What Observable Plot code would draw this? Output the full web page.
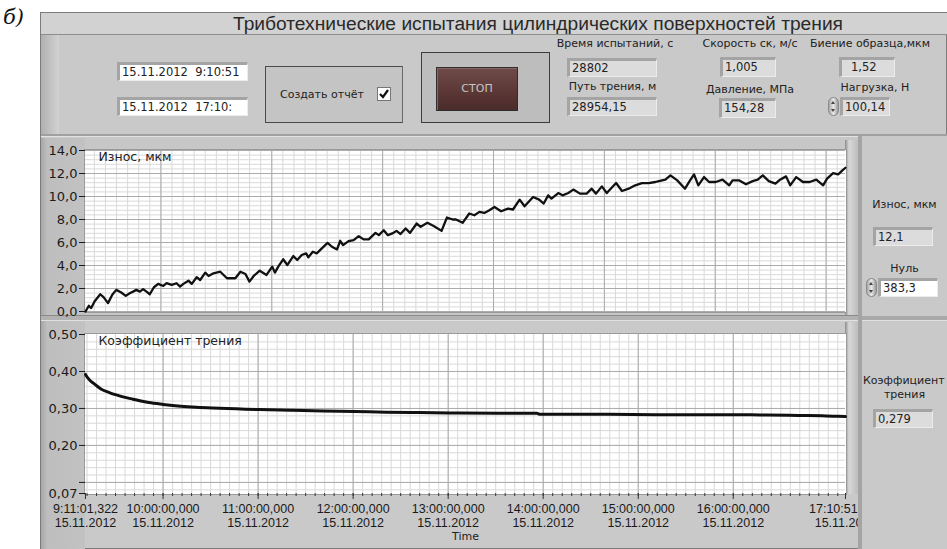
<!DOCTYPE html>
<html><head><meta charset="utf-8">
<script src="https://cdn.jsdelivr.net/npm/d3@7"></script>
<script src="https://cdn.jsdelivr.net/npm/@observablehq/plot@0.6"></script>
<style>
body{margin:0;background:#fff;}
#root{position:relative;width:947px;height:549px;overflow:hidden;font-family:"DejaVu Sans",sans-serif;color:#222;}
.a{position:absolute;box-sizing:border-box;}
.box{position:absolute;box-sizing:border-box;border-style:solid;border-width:3px 1px 1px 3px;border-color:#a4a4a4 #ececec #ececec #a4a4a4;font:11.5px "DejaVu Sans";line-height:14px;padding-left:2px;color:#222;white-space:nowrap;overflow:hidden;}
.w{background:#fff}.g{background:#dcdcdc}
.lbl{position:absolute;font:11px "DejaVu Sans";color:#222;white-space:nowrap;text-align:center;}
.spin{position:absolute;width:11px;height:19px;border-radius:6px;background:linear-gradient(to right,#a8a8a8,#e8e8e8,#9a9a9a);border:1px solid #888;box-sizing:border-box;}
.spin:before{content:"";position:absolute;left:2px;top:3px;border:2.5px solid transparent;border-bottom:3px solid #444;border-top:0;}
.spin:after{content:"";position:absolute;left:2px;bottom:3px;border:2.5px solid transparent;border-top:3px solid #444;border-bottom:0;}
svg{overflow:visible}
</style></head><body><div id="root">
<div class="a" style="left:3px;top:5px;font:italic 21px 'DejaVu Serif',serif;color:#111">б)</div>
<div class="a" style="left:40px;top:12px;width:907px;height:537px;border:1px solid #7c7c7c;background:#c9c9c9"></div>
<div class="a" style="left:41px;top:13px;width:906px;height:22px;background:#d2d2d2;border-bottom:1px solid #8d8d8d"></div>
<div class="a" style="left:185px;top:13px;width:706px;height:22px;text-align:center;font:19.2px 'Liberation Sans',Arial,sans-serif;line-height:22px;color:#2a2a2a;white-space:nowrap">Триботехнические испытания цилиндрических поверхностей трения</div>
<div class="a" style="left:41px;top:35px;width:18px;height:100px;background:linear-gradient(to right,#b0b0b0,#d2d2d2)"></div>
<div class="a" style="left:41px;top:134px;width:906px;height:3px;background:#a0a0a0;border-bottom:1px solid #e2e2e2"></div>

<div class="box w" style="left:117px;top:62px;width:131px;height:19px">15.11.2012&nbsp; 9:10:51</div>
<div class="box w" style="left:117px;top:97px;width:131px;height:19px">15.11.2012&nbsp; 17:10:</div>

<div class="a" style="left:265px;top:66px;width:138px;height:57px;border:1px solid #4a4a4a;background:#c4c4c4;border-right-color:#6a6a6a"></div>
<div class="lbl" style="left:280px;top:88px">Создать отчёт</div>
<div class="a" style="left:377px;top:87px;width:14px;height:14px;background:#fff;border:1px solid #777">
<svg width="12" height="12" style="position:absolute;left:0;top:0"><polyline points="2,6 5,9 10,2" fill="none" stroke="#111" stroke-width="2.2"/></svg></div>

<div class="a" style="left:421px;top:52px;width:129px;height:71px;border:1px solid #3c3c3c;background:#bdbdbd"></div>
<div class="a" style="left:436px;top:67px;width:82px;height:44px;border:1px solid #2e2e2e;background:linear-gradient(#6e4a48,#5a3634 60%,#4a2c2b);box-shadow:inset 1px 1px 0 #8a6462;color:#c8c8c8;font:11px 'DejaVu Sans';text-align:center;line-height:42px">СТОП</div>

<div class="lbl" style="left:545px;top:37px;width:140px">Время испытаний, с</div>
<div class="box g" style="left:567px;top:58px;width:90px;height:19px">28802</div>
<div class="lbl" style="left:545px;top:80px;width:135px">Путь трения, м</div>
<div class="box g" style="left:567px;top:97px;width:90px;height:19px">28954,15</div>

<div class="lbl" style="left:695px;top:37px;width:110px">Скорость ск, м/с</div>
<div class="box g" style="left:720px;top:57px;width:56px;height:20px">1,005</div>
<div class="lbl" style="left:695px;top:83px;width:110px">Давление, МПа</div>
<div class="box g" style="left:719px;top:98px;width:57px;height:20px">154,28</div>

<div class="lbl" style="left:805px;top:37px;width:130px">Биение образца,мкм</div>
<div class="box g" style="left:839px;top:57px;width:56px;height:20px;padding-left:9px">1,52</div>
<div class="lbl" style="left:825px;top:81px;width:100px">Нагрузка, Н</div>
<div class="spin" style="left:828px;top:97px"></div>
<div class="box g" style="left:840px;top:97px;width:50px;height:19px">100,14</div>

<div class="a" style="left:41px;top:138px;width:817px;height:180px;background:#c7c7c7"></div>
<div class="a" style="left:41px;top:138px;width:44px;height:411px;background:linear-gradient(to right,#a6a6a6 0,#bebebe 6px,#c2c2c2 100%)"></div>
<div class="a" style="left:41px;top:315px;width:820px;height:6px;background:#b2b2b2;border-top:1px solid #8a8a8a;border-bottom:1px solid #e0e0e0"></div>
<div class="a" style="left:845px;top:140px;width:14px;height:175px;background:linear-gradient(to right,#8c8c8c,#d8d8d8 4px,#bababa)"></div>
<div class="a" style="left:845px;top:322px;width:14px;height:172px;background:linear-gradient(to right,#8c8c8c,#d8d8d8 4px,#bababa)"></div>

<div id="top" class="a" style="left:42px;top:137px"></div>
<div id="bot" class="a" style="left:42px;top:320px"></div>

<div class="a" style="left:858px;top:136px;width:89px;height:413px;background:#c9c9c9;border-left:4px solid #a4a4a4;z-index:5"></div>
<div class="a" style="left:862px;top:316px;width:85px;height:5px;background:#a9a9a9;border-bottom:1px solid #e0e0e0;z-index:6"></div>
<div class="lbl" style="left:862px;top:198px;width:85px;z-index:6">Износ, мкм</div>
<div class="box g" style="left:873px;top:227px;width:60px;height:19px;z-index:6">12,1</div>
<div class="lbl" style="left:862px;top:262px;width:85px;z-index:6">Нуль</div>
<div class="spin" style="left:866px;top:278px;z-index:6"></div>
<div class="box w" style="left:878px;top:278px;width:60px;height:19px;z-index:6">383,3</div>
<div class="lbl" style="left:863px;top:374px;text-align:left;z-index:6">Коэффициент</div>
<div class="lbl" style="left:862px;top:388px;width:85px;z-index:6">трения</div>
<div class="box g" style="left:873px;top:409px;width:60px;height:19px;z-index:6">0,279</div>
</div>
<script>
// ---- data ----
const wearMinutes = [0, 2.1, 3.6, 5.7, 9.3, 11.4, 14.2, 16.9, 19.4, 22.6,
 25.4, 27.9, 30.0, 32.1, 34.3, 36.4, 38.5, 40.6, 43.2, 45.9,
 49.1, 51.2, 54.4, 57.5, 59.7, 61.8, 65.0, 67.1, 70.2, 72.4,
 75.6, 77.7, 80.8, 85.1, 89.3, 94.6, 97.8, 101.0, 103.5, 106.2,
 110.0, 114.3, 117.9, 119.6, 121.7, 124.8, 127.4, 131.2, 133.7, 136.5,
 139.3, 140.7, 143.5, 146.1, 148.1, 152.8, 155.6, 158.8, 160.8, 162.6,
 166.1, 169.3, 172.5, 175.6, 178.8, 183.1, 185.2, 188.3, 190.9, 193.7,
 196.4, 198.9, 202.1, 204.9, 209.1, 211.6, 215.9, 220.1, 224.8, 228.2,
 231.8, 233.9, 238.1, 242.3, 245.5, 248.7, 251.8, 255.0, 258.2, 262.4,
 266.7, 269.9, 274.1, 277.2, 282.6, 286.4, 289.3, 292.1, 294.2, 298.5,
 301.2, 304.8, 308.0, 312.2, 316.4, 319.6, 322.3, 326.0, 329.1, 335.0,
 338.7, 342.9, 347.1, 351.3, 355.6, 359.8, 362.0, 366.1, 369.3, 373.6,
 378.5, 381.4, 384.2, 386.9, 390.5, 393.7, 397.9, 402.2, 406.4, 408.5,
 412.8, 417.0, 421.2, 424.4, 427.6, 431.4, 435.6, 438.5, 442.3, 444.9,
 448.7, 453.0, 457.2, 461.4, 465.7, 468.2, 472.0, 475.2, 477.9, 479.8];
const wearValues = [0.0, 0.5, 0.3, 0.87, 1.5, 1.25, 0.73, 1.45, 1.88, 1.65,
 1.36, 1.59, 1.73, 1.88, 1.73, 1.94, 1.73, 1.5, 2.11, 2.4,
 2.22, 2.46, 2.31, 2.46, 2.17, 2.4, 2.68, 2.4, 2.98, 2.74,
 3.38, 3.09, 3.32, 3.46, 2.89, 2.89, 3.46, 3.26, 2.6, 3.09,
 3.55, 3.18, 3.9, 3.38, 3.9, 4.54, 4.04, 4.82, 4.48, 4.91,
 5.06, 4.71, 5.2, 5.06, 5.34, 5.97, 5.63, 5.4, 6.15, 5.77,
 6.12, 6.21, 6.55, 6.27, 6.27, 6.84, 6.64, 7.07, 6.64, 6.79,
 7.01, 6.73, 7.22, 6.84, 7.65, 7.36, 7.71, 7.42, 7.01, 8.17,
 8.0, 8.0, 7.71, 8.52, 8.37, 8.66, 8.57, 8.81, 9.09, 8.72,
 8.95, 8.87, 9.73, 9.15, 9.96, 9.73, 9.39, 10.1, 9.82, 10.3,
 10.1, 10.3, 10.6, 10.25, 10.25, 10.68, 10.25, 10.88, 10.3, 11.17,
 10.48, 10.68, 10.97, 11.17, 11.17, 11.26, 11.34, 11.46, 11.84, 11.4,
 10.68, 11.34, 11.92, 10.97, 11.69, 11.26, 11.26, 11.46, 10.97, 11.4,
 11.4, 11.06, 11.34, 11.46, 11.84, 11.34, 11.12, 11.46, 11.75, 10.97,
 11.69, 11.26, 11.26, 11.46, 10.97, 11.55, 12.03, 11.92, 12.27, 12.5];
const frictionMinutes = [0, 1, 3, 6, 10, 15, 20, 25, 30, 35, 40, 49, 60, 70, 80, 95, 110, 130, 150, 170,
 190, 210, 230, 260, 285, 287, 300, 330, 360, 390, 420, 430, 450, 465, 475, 479.8];
const frictionValues = [0.392, 0.385, 0.375, 0.365, 0.352, 0.343, 0.336, 0.330, 0.325, 0.320, 0.316, 0.311, 0.306, 0.303, 0.301, 0.299, 0.297, 0.295, 0.293, 0.292,
 0.290, 0.289, 0.288, 0.287, 0.287, 0.284, 0.284, 0.284, 0.283, 0.283, 0.283, 0.282, 0.281, 0.280, 0.279, 0.278];
const wearTicks = [0, 2, 4, 6, 8, 10, 12, 14];
const frictionTicks = [0.07, 0.10, 0.20, 0.30, 0.40, 0.50];
const frictionLabeled = [0.07, 0.20, 0.30, 0.40, 0.50];
const hourTicks = [10, 11, 12, 13, 14, 15, 16];
const startTime = new Date(2012, 10, 15, 9, 11, 1, 322);
const endTime = new Date(2012, 10, 15, 17, 10, 51, 0);
const topGridStartMin = 47.6, topGridStepMin = 70;   // hidden x-scale grid of the wear graph

// ---- helpers ----
const at = m => new Date(+startTime + m * 60000);
const pad = (n, w = 2) => String(n).padStart(w, "0");
const fmtTime = d => `${d.getHours()}:${pad(d.getMinutes())}:${pad(d.getSeconds())},${pad(d.getMilliseconds(), 3)}\n${pad(d.getDate())}.${pad(d.getMonth() + 1)}.${d.getFullYear()}`;
const comma = (v, k) => v.toFixed(k).replace(".", ",");
const wear = wearMinutes.map((m, i) => ({time: at(m), value: wearValues[i]}));
const friction = frictionMinutes.map((m, i) => ({time: at(m), value: frictionValues[i]}));
const hours = hourTicks.map(h => new Date(2012, 10, 15, h, 0, 0));
const majorX = [startTime, ...hours, endTime];
const minorX = d3.timeMinute.every(6).range(startTime, endTime);
const topMajor = d3.range(0, 7).map(k => at(topGridStartMin + k * topGridStepMin));
const topMinor = d3.range(-6, 70).map(k => at(topGridStartMin + k * topGridStepMin / 10)).filter(d => d > startTime && d < endTime);

const minorC = "#d9d9d9", majorC = "#ababab";
const font = {fontFamily: "DejaVu Sans, sans-serif", background: "transparent", color: "#1a1a1a"};

const topChart = Plot.plot({
  width: 820, height: 180, marginLeft: 43, marginRight: 17, marginTop: 13, marginBottom: 6,
  style: {...font, fontSize: "13px"},
  x: {type: "time", domain: [startTime, endTime], axis: null},
  y: {domain: [0, 14], axis: null},
  marks: [
    Plot.frame({fill: "#fff", stroke: "#9a9a9a", inset: -1}),
    Plot.ruleX(topMinor, {stroke: minorC}),
    Plot.ruleY(d3.range(0, 14.01, 0.4), {stroke: minorC}),
    Plot.ruleX(topMajor, {stroke: majorC}),
    Plot.ruleY(wearTicks, {stroke: majorC}),
    Plot.line(wear, {x: "time", y: "value", stroke: "#111", strokeWidth: 2.3, strokeLinejoin: "round"}),
    Plot.axisY(wearTicks, {label: null, tickSize: 6, tickPadding: 2, tickFormat: d => comma(d, 1), fontSize: 13}),
    Plot.text(["Износ, мкм"], {frameAnchor: "top-left", dx: 13, dy: 2, fontSize: 12.5, textAnchor: "start", fill: "#222"})
  ]
});
document.getElementById("top").append(topChart);

const botChart = Plot.plot({
  width: 820, height: 229, marginLeft: 43, marginRight: 17, marginTop: 14, marginBottom: 56,
  style: {...font, fontSize: "13px"},
  x: {type: "time", domain: [startTime, endTime], axis: null},
  y: {domain: [0.07, 0.5], axis: null},
  marks: [
    Plot.frame({fill: "#fff", stroke: "#9a9a9a", inset: -1}),
    Plot.ruleX(minorX, {stroke: minorC}),
    Plot.ruleY(d3.range(0.08, 0.5, 0.02), {stroke: minorC}),
    Plot.ruleX(hours, {stroke: majorC}),
    Plot.ruleY([0.1, 0.2, 0.3, 0.4], {stroke: majorC}),
    Plot.line(friction, {x: "time", y: "value", stroke: "#111", strokeWidth: 3, curve: "monotone-x"}),
    Plot.axisY(frictionTicks, {label: null, tickSize: 6, tickPadding: 2, tickFormat: d => frictionLabeled.includes(d) ? comma(d, 2) : "", fontSize: 13}),
    Plot.axisX(minorX, {label: null, tickSize: 3, tickFormat: () => "", stroke: "#333"}),
    Plot.axisX(majorX, {label: null, tickSize: 6, tickPadding: 3, tickFormat: fmtTime, fontFamily: "Liberation Sans, Arial, sans-serif", fontSize: 12.5, lineHeight: 1.15, stroke: "#333"}),
    Plot.text(["Time"], {frameAnchor: "bottom", dy: 46, fontSize: 11, fill: "#222"}),
    Plot.text(["Коэффициент трения"], {frameAnchor: "top-left", dx: 13, dy: 2, fontSize: 12.5, textAnchor: "start", fill: "#222"})
  ]
});
document.getElementById("bot").append(botChart);
</script>
</body></html>
